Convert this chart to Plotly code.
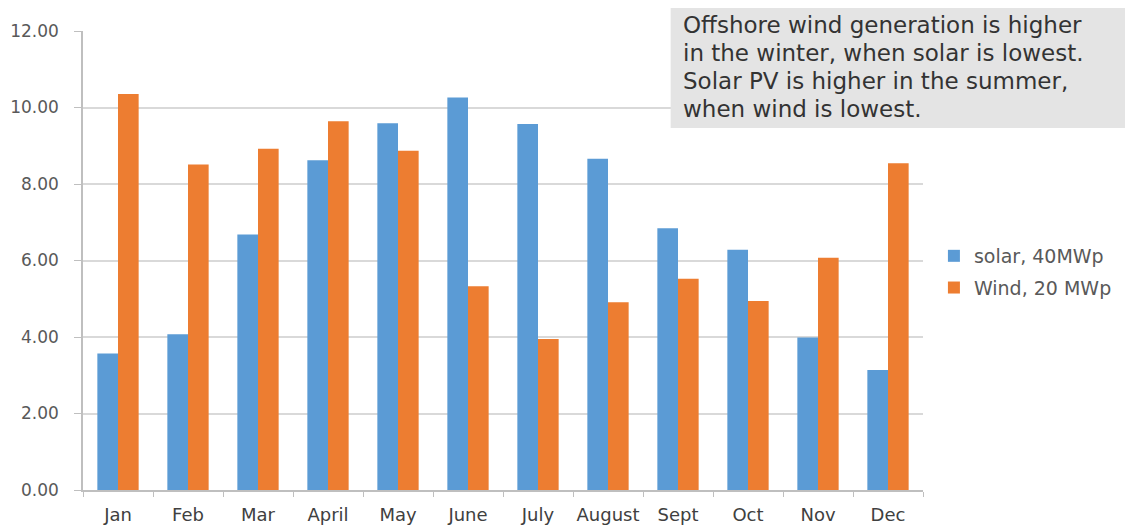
import plotly.graph_objects as go

months = ["Jan", "Feb", "Mar", "April", "May", "June", "July", "August", "Sept", "Oct", "Nov", "Dec"]
solar = [3.57, 4.07, 6.68, 8.62, 9.59, 10.26, 9.57, 8.66, 6.84, 6.28, 3.99, 3.14]
wind = [10.35, 8.51, 8.92, 9.64, 8.87, 5.33, 3.95, 4.91, 5.52, 4.94, 6.07, 8.54]
y_ticks = [0, 2, 4, 6, 8, 10, 12]
note_lines = [
    "Offshore wind generation is higher",
    "in the winter, when solar is lowest.",
    "Solar PV is higher in the summer,",
    "when wind is lowest.",
]

FONT = "DejaVu Sans"
fig = go.Figure()
fig.add_trace(go.Bar(x=months, y=solar, name="solar, 40MWp", legendgroup="a",
                     marker=dict(color="#5B9BD5", line=dict(width=0))))
fig.add_trace(go.Bar(x=months, y=wind, name="Wind, 20 MWp", legendgroup="b",
                     marker=dict(color="#ED7D31", line=dict(width=0))))

# page body adds an 8px offset; compensate so the plot area lands at x 83..923, y 31..490
fig.update_layout(
    width=1125, height=523,
    margin=dict(l=75, r=210, t=23, b=41, autoexpand=False),
    paper_bgcolor="white", plot_bgcolor="white",
    barmode="group", bargap=0.41, bargroupgap=0,
    font=dict(family=FONT, color="#595959", size=17),
    legend=dict(x=1.013, y=0.475, xanchor="left", yanchor="middle",
                font=dict(size=19, color="#595959"), itemwidth=30, tracegroupgap=4),
    showlegend=True,
)
fig.update_yaxes(range=[0, 12], tickvals=y_ticks, tickformat=".2f",
                 showgrid=True, gridcolor="#d9d9d9", gridwidth=1.5,
                 showline=True, linecolor="#bfbfbf", linewidth=1.5,
                 ticks="outside", ticklen=7, tickcolor="#bfbfbf",
                 ticklabelstandoff=12,
                 zeroline=False, tickfont=dict(size=17, color="#595959"))
fig.update_xaxes(showline=True, linecolor="#bfbfbf", linewidth=1.5,
                 ticks="outside", ticklen=5, tickcolor="#bfbfbf", tickson="boundaries",
                 ticklabelstandoff=8, tickangle=0,
                 tickfont=dict(size=18, color="#404040"))

fig.add_shape(type="rect", xref="paper", yref="paper",
              x0=0.6996, x1=1.26, y0=0.7887, y1=1.0566,
              fillcolor="#e4e4e4", line=dict(width=0), layer="above")
line_y = [25, 53, 81, 109]
for txt, py in zip(note_lines, line_y):
    fig.add_annotation(text=txt, xref="paper", yref="paper",
                       x=(681 - 83) / 840, y=(490 - py) / 459,
                       xanchor="left", yanchor="middle", showarrow=False,
                       font=dict(family=FONT, size=23, color="#333333"))

fig.write_html("out.html")
